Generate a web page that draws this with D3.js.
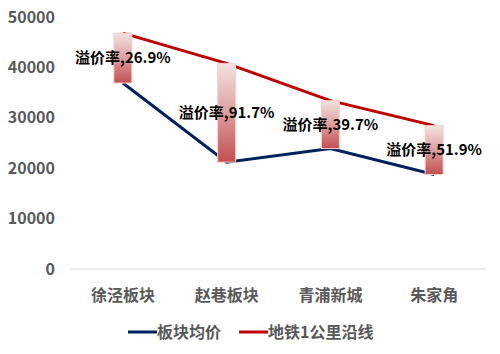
<!DOCTYPE html>
<html><head><meta charset="utf-8">
<script src="https://cdn.jsdelivr.net/npm/d3@7"></script>
<style>body{margin:0;background:#fff;} svg{display:block;}</style>
</head><body>
<script>
const categories = ["徐泾板块", "赵巷板块", "青浦新城", "朱家角"];
const blockAvg = [36900, 21200, 23900, 18750];
const metroLine = [46800, 40800, 33400, 28450];
const premiumLabels = ["溢价率,26.9%", "溢价率,91.7%", "溢价率,39.7%", "溢价率,51.9%"];
const yTicks = [0, 10000, 20000, 30000, 40000, 50000];
const seriesNames = ["板块均价", "地铁1公里沿线"];
const seriesColors = ["#002060", "#C00000"];

const W = 500, H = 354;
const m = {left: 71, right: 14, top: 17, bottom: 85};
const svg = d3.select("body").append("svg").attr("width", W).attr("height", H);
const font = "'Microsoft YaHei','Noto Sans CJK SC',sans-serif";

const x = d3.scaleBand().domain(categories).range([m.left, W - m.right]);
const y = d3.scaleLinear().domain([0, 50000]).range([H - m.bottom, m.top]);

const defs = svg.append("defs");
const grad = defs.append("linearGradient").attr("id", "bg").attr("x1", 0).attr("y1", 0).attr("x2", 0).attr("y2", 1);
grad.append("stop").attr("offset", "0%").attr("stop-color", "#f3e2e1");
grad.append("stop").attr("offset", "45%").attr("stop-color", "#e0a6a6");
grad.append("stop").attr("offset", "100%").attr("stop-color", "#c24f4f");

// baseline
svg.append("line").attr("x1", m.left).attr("x2", W - m.right)
  .attr("y1", y(0)).attr("y2", y(0)).attr("stroke", "#d9d9d9").attr("stroke-width", 1);

// y axis
const yAxis = d3.axisLeft(y).tickValues(yTicks).tickFormat(d3.format("d")).tickSize(0).tickPadding(16);
const ya = svg.append("g").attr("transform", `translate(${m.left},0)`).call(yAxis);
ya.select(".domain").remove();
ya.selectAll("text").attr("font-family", font).attr("font-size", 16).attr("font-weight", "bold").attr("fill", "#595959");

// x axis
const xAxis = d3.axisBottom(x).tickSize(0).tickPadding(21);
const xa = svg.append("g").attr("transform", `translate(0,${y(0)})`).call(xAxis);
xa.select(".domain").remove();
xa.selectAll("text").attr("font-family", font).attr("font-size", 16).attr("font-weight", "bold").attr("fill", "#595959");

const cx = d => x(d) + x.bandwidth() / 2;
const series = [blockAvg, metroLine];
series.forEach((vals, i) => {
  const line = d3.line().x((d, j) => cx(categories[j])).y(d => y(d));
  svg.append("path").datum(vals).attr("d", line).attr("fill", "none")
    .attr("stroke", seriesColors[i]).attr("stroke-width", 3);
});

// up-down bars
const bw = 18;
svg.selectAll("rect.ud").data(categories).enter().append("rect")
  .attr("x", d => cx(d) - bw / 2)
  .attr("y", (d, i) => y(metroLine[i]))
  .attr("width", bw)
  .attr("height", (d, i) => y(blockAvg[i]) - y(metroLine[i]))
  .attr("fill", "url(#bg)").attr("stroke", "#f5d0c8").attr("stroke-width", 1);

// labels
svg.selectAll("text.lab").data(categories).enter().append("text")
  .attr("x", d => cx(d))
  .attr("y", (d, i) => y((metroLine[i] + blockAvg[i]) / 2))
  .attr("dy", "0.35em")
  .attr("text-anchor", "middle")
  .attr("font-family", font).attr("font-size", 15).attr("font-weight", "bold")
  .attr("fill", "#000")
  .text((d, i) => premiumLabels[i]);

// legend
const lg = svg.append("g");
const legendItems = [{x: 128, w: 29}, {x: 239, w: 29}];
seriesNames.forEach((name, i) => {
  const it = legendItems[i];
  lg.append("line").attr("x1", it.x).attr("x2", it.x + it.w).attr("y1", 332).attr("y2", 332)
    .attr("stroke", seriesColors[i]).attr("stroke-width", 3);
  lg.append("text").attr("x", it.x + it.w).attr("y", 332).attr("dy", "0.35em")
    .attr("font-family", font).attr("font-size", 16).attr("font-weight", "bold").attr("fill", "#595959")
    .text(name);
});
</script>
</body></html>
